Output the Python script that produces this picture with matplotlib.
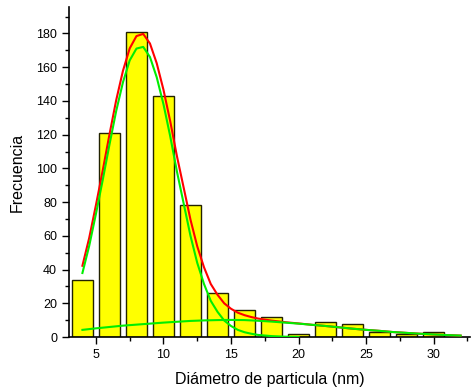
import matplotlib.pyplot as plt
from matplotlib.ticker import MultipleLocator

plt.rcParams["font.family"] = ["Liberation Sans", "DejaVu Sans"]

# histogram (bin centres, counts)
diametro = [4, 6, 8, 10, 12, 14, 16, 18, 20, 22, 24, 26, 28, 30]
frecuencia = [34, 121, 181, 143, 78, 26, 16, 12, 2, 9, 8, 3, 2, 3]

# fitted curves
x_pico = [4, 4.5, 5, 5.5, 6, 6.5, 7, 7.5, 8, 8.5, 9, 9.5, 10, 10.5, 11, 11.5,
          12, 12.5, 13, 13.5, 14, 14.5, 15, 15.5, 16, 16.5, 17, 18, 19, 20]
y_pico = [38, 54, 73, 93, 114, 134, 151, 164, 171, 172, 166, 154, 138, 119, 98, 79,
          60, 44, 31.5, 21.5, 15, 9.8, 6.6, 4.3, 2.9, 2.0, 1.3, 0.6, 0.25, 0.1]

x_ancho = [4, 5, 6, 7, 8, 9, 10, 11, 12, 13, 14, 15, 16, 17, 18, 19, 20, 21, 22,
           23, 24, 25, 26, 27, 28, 29, 30, 31, 32]
y_ancho = [4.3, 5.2, 6.0, 6.8, 7.4, 8.0, 8.6, 9.1, 9.6, 9.9, 10.1, 10.2, 10.1, 9.7,
           9.2, 8.6, 8.0, 7.3, 6.6, 5.8, 5.0, 4.3, 3.7, 3.0, 2.5, 2.0, 1.6, 1.2, 0.9]

x_total = [4, 4.5, 5, 5.5, 6, 6.5, 7, 7.5, 8, 8.5, 9, 9.5, 10, 10.5, 11, 11.5,
           12, 12.5, 13, 13.5, 14, 14.5, 15, 15.5, 16, 16.5, 17, 18, 19, 20, 21,
           22, 23, 24, 25, 26, 27, 28, 29, 30, 31, 32]
y_total = [42.3, 58.7, 78.2, 98.6, 120, 140.4, 157.8, 171.1, 178.4, 179.7, 174, 162.3,
           146.6, 127.9, 107.1, 88.4, 69.6, 53.8, 41.4, 31.5, 25.1, 20, 16.8, 14.5,
           13, 11.9, 11.0, 9.8, 8.85, 8.1, 7.3, 6.6, 5.8, 5.0, 4.3, 3.7, 3.0, 2.5,
           2.0, 1.6, 1.2, 0.9]

fig = plt.figure(figsize=(4.72, 3.92), dpi=100)
ax = fig.add_axes([0.146, 0.140, 0.850, 0.842])

ax.bar(diametro, frecuencia, width=1.6, color="#ffff00", edgecolor="#222200",
       linewidth=1.0, zorder=2)
ax.plot(x_total, y_total, color="#ff0000", linewidth=1.5, zorder=3)
ax.plot(x_pico, y_pico, color="#00ee00", linewidth=1.5, zorder=4)
ax.plot(x_ancho, y_ancho, color="#00ee00", linewidth=1.5, zorder=4)

ax.set_xlim(3, 32.7)
ax.set_ylim(0, 195.6)
ax.xaxis.set_major_locator(MultipleLocator(5))
ax.xaxis.set_minor_locator(MultipleLocator(2.5))
ax.yaxis.set_major_locator(MultipleLocator(20))
ax.yaxis.set_minor_locator(MultipleLocator(10))
ax.tick_params(which="major", length=5, width=1, labelsize=9, direction="out")
ax.tick_params(which="minor", length=3, width=1, direction="out")

for side in ("top", "right"):
    ax.spines[side].set_visible(False)
for side in ("left", "bottom"):
    ax.spines[side].set_linewidth(1.2)

ax.set_xlabel("Diámetro de particula (nm)", fontsize=11.5, labelpad=8)
ax.set_ylabel("Frecuencia", fontsize=11.5, labelpad=8)

fig.savefig("out.png", dpi=100)
